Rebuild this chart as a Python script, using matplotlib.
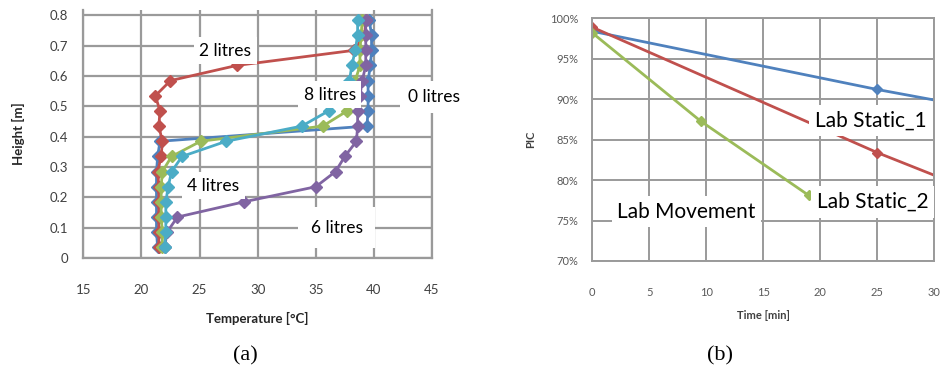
import matplotlib
matplotlib.use("Agg")
import matplotlib.pyplot as plt

plt.rcParams['font.family'] = ['Lato', 'DejaVu Sans']

# (a) temperature profiles, heights in m
heights = [0.035, 0.085, 0.135, 0.185, 0.235, 0.285, 0.335, 0.385,
           0.435, 0.485, 0.535, 0.585, 0.635, 0.685, 0.735, 0.785]
temp_0l = [21.4, 21.3, 21.3, 21.3, 21.3, 21.3, 21.4, 21.6,
           39.4, 39.5, 39.5, 39.5, 39.7, 39.8, 39.8, 39.6]
temp_2l = [21.5, 21.5, 21.5, 21.5, 21.5, 21.4, 21.7, 21.8,
           21.5, 21.6, 21.2, 22.5, 28.2, 38.3, 39.2, 39.3]
temp_4l = [21.8, 21.8, 21.7, 21.7, 21.7, 21.8, 22.6, 25.1,
           35.6, 37.7, 38.2, 38.4, 38.8, 38.8, 38.9, 39.0]
temp_6l = [22.0, 22.2, 23.1, 28.8, 35.0, 36.7, 37.5, 38.5,
           38.6, 38.6, 38.8, 39.0, 39.3, 39.3, 39.3, 39.3]
temp_8l = [22.0, 22.1, 22.1, 22.1, 22.3, 22.6, 23.5, 27.3,
           33.8, 36.1, 37.3, 37.9, 38.1, 38.4, 38.6, 38.6]

# (b) PIC over time
t_static1 = [0, 25, 30]
pic_static1 = [98.4, 91.2, 89.9]
t_static2 = [0, 25, 30]
pic_static2 = [98.9, 83.4, 80.6]
t_move = [0, 9.5, 19]
pic_move = [98.2, 87.3, 78.1]

temp_ticks = [15, 20, 25, 30, 35, 40, 45]
height_ticks = [0, 0.1, 0.2, 0.3, 0.4, 0.5, 0.6, 0.7, 0.8]
height_labels = ['0', '0.1', '0.2', '0.3', '0.4', '0.5', '0.6', '0.7', '0.8']
time_ticks = [0, 5, 10, 15, 20, 25, 30]
pic_ticks = [70, 75, 80, 85, 90, 95, 100]
pic_labels = ['70%', '75%', '80%', '85%', '90%', '95%', '100%']

blue = '#4F81BD'
red = '#C0504D'
green = '#9BBB59'
purple = '#8064A2'
cyan = '#4BACC6'
gridc = '#9a9a9a'

fig = plt.figure(figsize=(9.41, 3.72), dpi=100)
ax1 = fig.add_axes([0.0885, 0.3065, 0.3706, 0.652 * 0.819 / 0.8])
ax2 = fig.add_axes([0.6294, 0.2984, 0.3634, 0.6524])

# ---- (a)
for temps, col in [(temp_0l, blue), (temp_2l, red), (temp_4l, green),
                   (temp_6l, purple), (temp_8l, cyan)]:
    ax1.plot(temps, heights, color=col, lw=2.0, marker='D', ms=6.5)

ax1.set_xlim(15, 45)
ax1.set_ylim(0, 0.819)
ax1.set_xticks(temp_ticks)
ax1.set_yticks(height_ticks)
ax1.set_yticklabels(height_labels)
ax1.grid(True, color=gridc, lw=1.6)
ax1.set_axisbelow(True)
for s in ['left', 'bottom', 'right']:
    ax1.spines[s].set_color(gridc)
    ax1.spines[s].set_linewidth(1.6)
ax1.spines['top'].set_visible(False)
ax1.tick_params(length=0, labelsize=9.5, labelcolor='#404040')
ax1.tick_params(axis='x', pad=19)
ax1.tick_params(axis='y', pad=11)
ax1.set_xlabel('Temperature [°C]', fontsize=9.5, fontweight='bold', color='#262626')
ax1.xaxis.label.set_verticalalignment('center')
ax1.xaxis.set_label_coords(0.5, -0.245)
ax1.set_ylabel('Height [m]', fontsize=9.5, fontweight='bold', color='#262626')
ax1.yaxis.label.set_verticalalignment('center')
ax1.yaxis.set_label_coords(-0.187, 0.5)

box = dict(facecolor='white', edgecolor='none', pad=4)
lab_kw = dict(fontsize=12.5, ha='center', va='center', color='black', zorder=5)
ax1.text(27.2, 0.683, '2 litres', bbox=box, **lab_kw)
ax1.text(36.2, 0.538, '8 litres', bbox=box, **lab_kw)
ax1.text(45.2, 0.531, '0 litres', bbox=dict(facecolor='white', edgecolor='none', pad=6), **lab_kw)
ax1.text(26.2, 0.239, '4 litres', bbox=box, **lab_kw)
ax1.text(36.8, 0.099, '6 litres', bbox=dict(facecolor='white', edgecolor='none', pad=9), **lab_kw)

# ---- (b)
ax2.plot(t_static1, pic_static1, color=blue, lw=2.0, marker='D', ms=5, markevery=[0, 1])
ax2.plot(t_static2, pic_static2, color=red, lw=2.0, marker='D', ms=5, markevery=[0, 1])
ax2.plot(t_move, pic_move, color=green, lw=2.0, marker='D', ms=5)

ax2.set_xlim(0, 30)
ax2.set_ylim(70, 100)
ax2.set_xticks(time_ticks)
ax2.set_yticks(pic_ticks)
ax2.set_yticklabels(pic_labels)
ax2.grid(True, color=gridc, lw=1.4)
ax2.set_axisbelow(True)
for s in ax2.spines.values():
    s.set_color(gridc)
    s.set_linewidth(1.4)
ax2.tick_params(length=0, labelsize=8, labelcolor='#595959')
ax2.tick_params(axis='x', pad=19)
ax2.tick_params(axis='y', pad=10)
ax2.set_xlabel('Time [min]', fontsize=8, fontweight='bold', color='#404040')
ax2.xaxis.label.set_verticalalignment('center')
ax2.xaxis.set_label_coords(0.5, -0.225)
ax2.set_ylabel('PIC', fontsize=8, fontweight='bold', color='#404040')
ax2.yaxis.label.set_verticalalignment('center')
ax2.yaxis.set_label_coords(-0.179, 0.503)

lab2 = dict(fontsize=15, ha='left', va='center', color='black', zorder=5,
            bbox=dict(facecolor='white', edgecolor='none', pad=4))
ax2.text(19.5, 87.4, 'Lab Static_1', **lab2)
ax2.text(19.7, 77.3, 'Lab Static_2', **lab2)
ax2.text(2.2, 76.1, 'Lab Movement', **lab2)

fig.text(245 / 941, 1 - 356 / 372, '(a)', fontsize=16, family='Liberation Serif',
         ha='center', va='center')
fig.text(720 / 941, 1 - 356 / 372, '(b)', fontsize=16, family='Liberation Serif',
         ha='center', va='center')

fig.savefig('out.png', dpi=100)
